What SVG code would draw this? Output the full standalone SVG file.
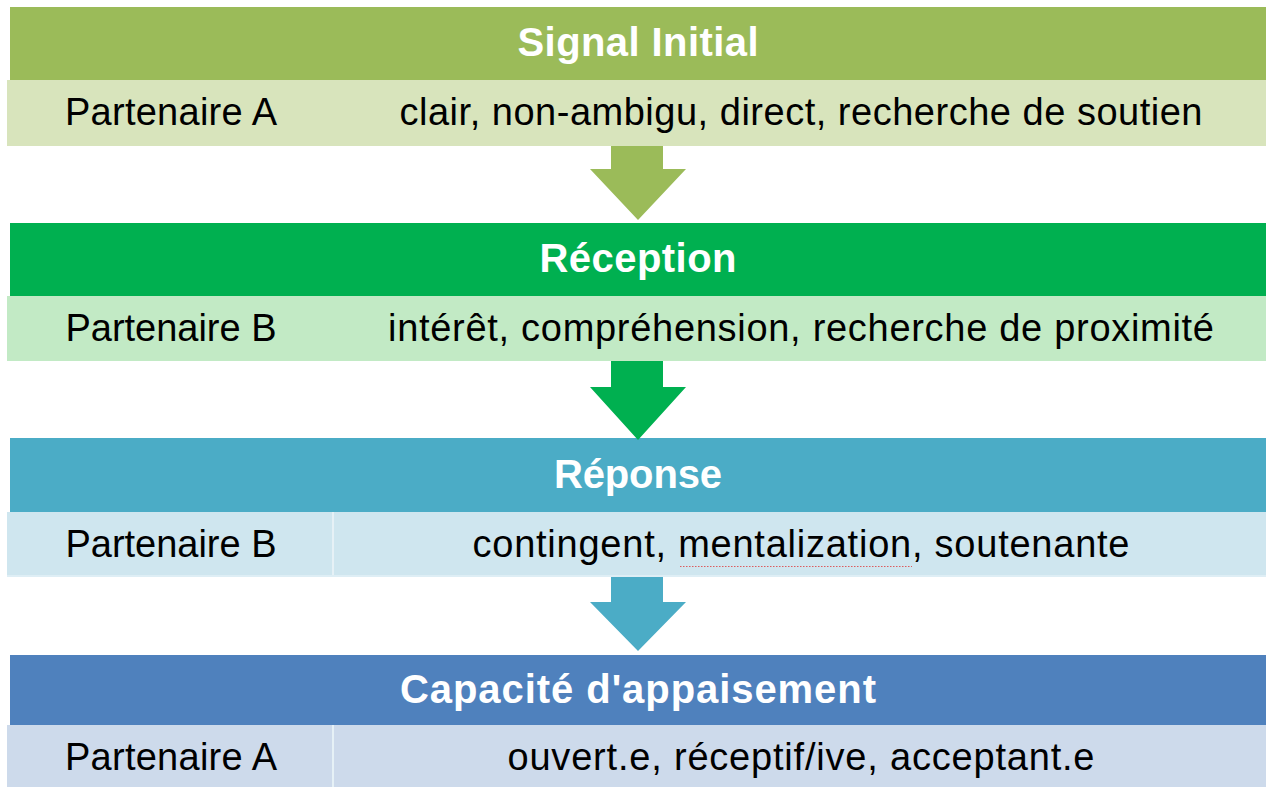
<svg xmlns="http://www.w3.org/2000/svg" width="1266" height="787" viewBox="0 0 1266 787">
<style>
.hd{font-family:"Liberation Sans",Arial,sans-serif;font-weight:bold;font-size:40px;fill:#fff;text-anchor:middle}
.bd{font-family:"Liberation Sans",Arial,sans-serif;font-size:38px;fill:#000;text-anchor:middle}
.div{stroke:#e6f1f6;stroke-width:2}
</style>
<rect width="1266" height="787" fill="#fff"/>
<g id="stage-signal">
<rect x="10" y="7" width="1256" height="73" fill="#9BBB59"/>
<rect x="7" y="80" width="1259" height="66" fill="#D8E4BC"/>
<text class="hd" x="638" y="56" textLength="241">Signal Initial</text>
<text class="bd" x="171" y="125" textLength="212">Partenaire A</text>
<text class="bd" x="801" y="125" textLength="803">clair, non-ambigu, direct, recherche de soutien</text>
</g>
<g id="stage-reception">
<rect x="10" y="223" width="1256" height="73" fill="#00B050"/>
<rect x="7" y="296" width="1259" height="65" fill="#C2EAC5"/>
<text class="hd" x="638" y="272" textLength="197">Réception</text>
<text class="bd" x="171" y="341" textLength="211">Partenaire B</text>
<text class="bd" x="801" y="341" textLength="826">intérêt, compréhension, recherche de proximité</text>
</g>
<g id="stage-reponse">
<rect x="10" y="438" width="1256" height="74" fill="#4BACC6"/>
<rect x="7" y="512" width="1259" height="65" fill="#DEEEF5"/>
<rect x="7" y="512" width="1259" height="63" fill="#CFE6EF"/>
<line class="div" x1="333" y1="512" x2="333" y2="575"/>
<text class="hd" x="638" y="488" textLength="168">Réponse</text>
<text class="bd" x="171" y="557" textLength="211">Partenaire B</text>
<text class="bd" x="801" y="557" textLength="657">contingent, mentalization, soutenante</text>
<line x1="680" y1="566.5" x2="912" y2="566.5" stroke="#e03030" stroke-width="1" stroke-dasharray="1.5 1.5" opacity="0.75"/>
</g>
<g id="stage-appaisement">
<rect x="10" y="655" width="1256" height="70" fill="#4F81BD"/>
<rect x="7" y="725" width="1259" height="62" fill="#CDDAEB"/>
<line class="div" x1="333" y1="725" x2="333" y2="787" stroke="#dfe7f2"/>
<text class="hd" x="638" y="703" textLength="476">Capacité d'appaisement</text>
<text class="bd" x="171" y="770" textLength="212">Partenaire A</text>
<text class="bd" x="801" y="770" textLength="587">ouvert.e, réceptif/ive, acceptant.e</text>
</g>
<g id="connectors">
<path d="M611 146 H663 V169 H686 L638 220 L590 169 H611 Z" fill="#9BBB59"/>
<path d="M611 361 H663 V387 H686 L638 440 L590 387 H611 Z" fill="#00B050"/>
<path d="M611 577 H663 V602 H686 L638 651 L590 602 H611 Z" fill="#4BACC6"/>
</g>
</svg>
